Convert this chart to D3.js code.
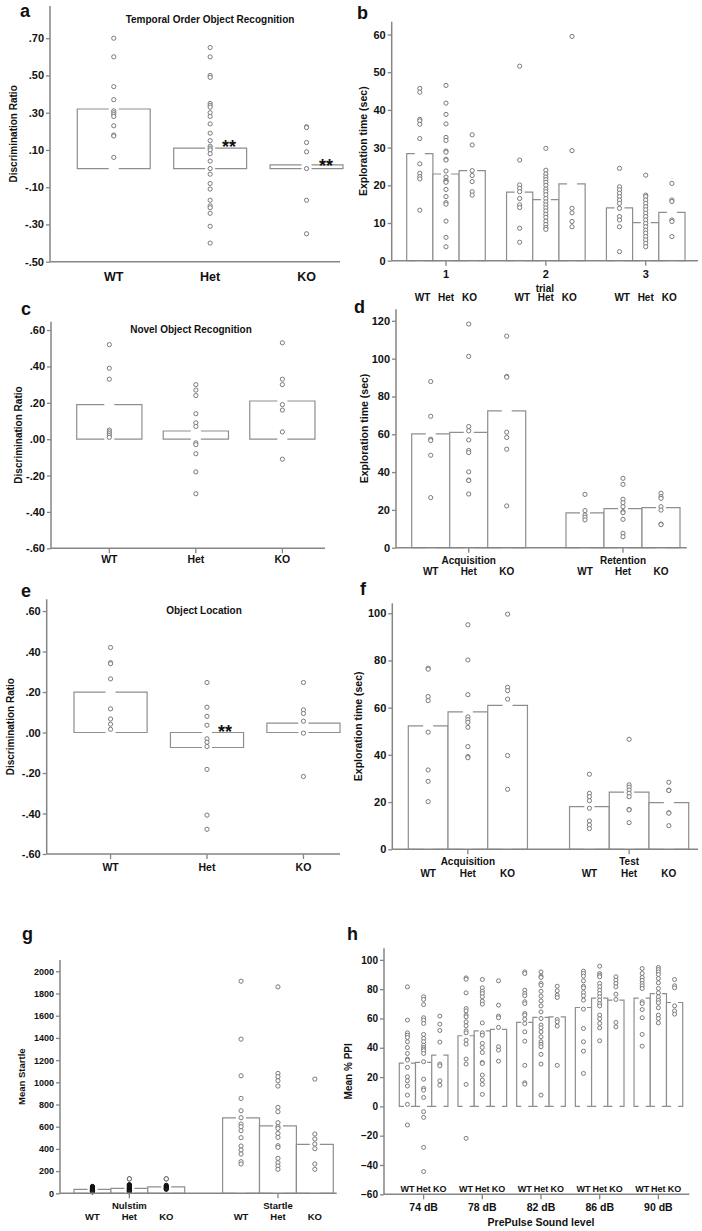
<!DOCTYPE html>
<html><head><meta charset="utf-8">
<script src="https://cdn.jsdelivr.net/npm/d3@7"></script>
<style>
body{margin:0;background:#fff;}
svg{display:block;font-family:"Liberation Sans",Arial,sans-serif;}
</style></head><body>
<svg id="chart" width="702" height="1231"></svg>
<script>
// ---------------- DATA ----------------
const genotypes = ["WT", "Het", "KO"];

// a: Temporal Order Object Recognition
const aMeans = [0.32, 0.11, 0.02];
const aWT = [0.70, 0.60, 0.44, 0.37, 0.31, 0.30, 0.29, 0.28, 0.23, 0.18, 0.175, 0.06];
const aHet = [0.65, 0.60, 0.50, 0.49, 0.35, 0.34, 0.33, 0.30, 0.28, 0.24, 0.19, 0.15, 0.12, 0.11, 0.10, 0.08, 0.04, 0.00, -0.03, -0.08, -0.11, -0.17, -0.20, -0.21, -0.24, -0.31, -0.40];
const aKO = [0.225, 0.22, 0.14, 0.09, 0.00, -0.17, -0.35];
const aTicks = [-0.5, -0.3, -0.1, 0.1, 0.3, 0.5, 0.7];

// b: exploration time per trial
const bTrials = ["1", "2", "3"];
const bMeansWT = [28.4, 18.2, 14.0];
const bMeansHet = [23.0, 16.2, 10.1];
const bMeansKO = [23.9, 20.4, 12.8];
const bWT = [[45.7, 44.7, 37.5, 37.1, 36.2, 32.4, 25.7, 23.2, 22.3, 21.7, 13.4],
             [51.6, 26.7, 20.1, 19.2, 18.3, 16.5, 14.8, 14.1, 8.6, 4.9],
             [24.5, 19.6, 18.8, 17.9, 17.0, 16.1, 15.2, 13.9, 11.7, 10.8, 9.0, 2.4]];
const bHet = [[46.5, 41.8, 38.8, 36.3, 32.7, 31.9, 29.1, 28.8, 26.9, 26.7, 23.8, 22.2, 21.3, 21.1, 20.8, 18.9, 17.0, 15.4, 15.0, 10.5, 6.2, 3.7],
              [29.8, 24.0, 23.0, 22.2, 21.5, 20.8, 20.0, 19.0, 18.3, 17.5, 16.5, 15.6, 14.8, 14.0, 13.2, 12.3, 11.5, 10.5, 9.6, 8.8, 8.3],
              [22.7, 17.4, 17.0, 16.1, 15.2, 14.3, 13.5, 12.6, 11.7, 10.8, 9.9, 9.0, 8.1, 7.3, 6.4, 5.5, 4.6, 3.7]];
const bKO = [[33.4, 30.7, 23.9, 22.6, 21.0, 18.3, 17.4],
             [59.5, 29.2, 13.9, 12.7, 10.4, 9.0],
             [20.5, 16.1, 15.7, 10.8, 10.4, 6.4]];
const bTicks = [0, 10, 20, 30, 40, 50, 60];

// c: Novel Object Recognition
const cMeans = [0.19, 0.045, 0.21];
const cWT = [0.52, 0.39, 0.33, 0.05, 0.04, 0.03, 0.02, 0.01];
const cHet = [0.30, 0.27, 0.24, 0.14, 0.09, 0.07, -0.02, -0.03, -0.08, -0.18, -0.30];
const cKO = [0.53, 0.33, 0.30, 0.19, 0.16, 0.04, -0.11];
const cTicks = [-0.6, -0.4, -0.2, 0, 0.2, 0.4, 0.6];

// d: NOR exploration time
const dPhases = ["Acquisition", "Retention"];
const dMeansWT = [60.2, 18.4];
const dMeansHet = [61.0, 20.7];
const dMeansKO = [72.4, 21.2];
const dWT = [[87.9, 69.5, 57.4, 56.7, 48.9, 26.5], [28.2, 19.6, 17.3, 16.1, 14.7]];
const dHet = [[118.3, 101.2, 64.1, 61.8, 57.0, 51.4, 50.3, 40.1, 35.8, 35.5, 28.4], [36.7, 33.5, 25.6, 23.8, 21.7, 19.1, 18.5, 15.0, 7.6, 5.8]];
const dKO = [[111.9, 90.6, 90.2, 61.1, 58.3, 52.1, 22.1], [28.8, 27.0, 26.1, 21.7, 19.9, 12.5, 12.2]];
const dTicks = [0, 20, 40, 60, 80, 100, 120];

// e: Object Location
const eMeans = [0.20, -0.074, 0.046];
const eWT = [0.42, 0.345, 0.34, 0.265, 0.117, 0.067, 0.041, 0.016];
const eHet = [0.247, 0.125, 0.08, 0.036, -0.031, -0.048, -0.069, -0.182, -0.408, -0.478];
const eKO = [0.247, 0.112, 0.094, 0.056, -0.003, -0.217];
const eTicks = [-0.6, -0.4, -0.2, 0, 0.2, 0.4, 0.6];

// f: OL exploration time
const fPhases = ["Acquisition", "Test"];
const fMeansWT = [52.3, 18.1];
const fMeansHet = [58.2, 24.2];
const fMeansKO = [61.0, 19.8];
const fWT = [[76.7, 76.3, 64.7, 63.0, 49.6, 33.6, 28.8, 20.2], [31.8, 23.7, 22.3, 20.6, 17.4, 12.0, 10.3, 8.8]];
const fHet = [[95.1, 80.2, 65.5, 56.1, 54.9, 53.8, 51.7, 43.5, 39.3, 38.8], [46.6, 27.3, 26.3, 25.1, 23.7, 22.3, 16.9, 16.7, 11.3]];
const fKO = [[99.6, 68.6, 67.2, 63.6, 39.7, 25.4], [28.4, 25.1, 24.9, 15.5, 15.3, 10.0]];
const fTicks = [0, 20, 40, 60, 80, 100];

// g: Mean Startle
const gConds = ["Nulstim", "Startle"];
const gMeansWT = [36, 680];
const gMeansHet = [45, 608];
const gMeansKO = [57, 441];
const gWT = [[62, 56, 50, 45, 40, 36, 32, 28, 24, 20, 16, 12],
             [1911, 1389, 1059, 855, 744, 681, 624, 600, 564, 501, 426, 390, 354, 285, 264]];
const gHet = [[130, 78, 72, 66, 60, 54, 48, 43, 38, 33, 28, 23, 18, 13],
              [1860, 1080, 1050, 1014, 966, 774, 735, 636, 600, 585, 540, 504, 429, 414, 315, 276, 246, 216]];
const gKO = [[130, 72, 62, 55, 48, 42, 36],
             [1029, 534, 489, 444, 402, 264, 216]];
const gTicks = [0, 200, 400, 600, 800, 1000, 1200, 1400, 1600, 1800, 2000];

// h: Mean % PPI
const hLevels = ["74 dB", "78 dB", "82 dB", "86 dB", "90 dB"];
const hMeansWT = [29.5, 48.2, 57.3, 67.5, 73.9];
const hMeansHet = [30.0, 51.6, 60.7, 73.9, 77.0];
const hMeansKO = [35.0, 52.5, 61.1, 72.5, 70.9];
const hWT = [
  [81.6, 58.9, 50.2, 48.6, 47.0, 44.1, 40.2, 36.1, 32.3, 31.6, 26.6, 20.2, 17.5, 13.9, 7.7, 1.4, -12.7],
  [87.7, 86.8, 77.5, 66.8, 65.2, 62.3, 61.1, 57.7, 55.0, 51.6, 50.2, 45.2, 42.5, 32.3, 28.9, 15.0, -21.8],
  [91.8, 90.7, 79.3, 77.0, 75.5, 71.4, 70.2, 63.4, 62.3, 59.5, 56.6, 50.9, 44.5, 28.0, 16.1, 15.2],
  [92.3, 90.7, 88.9, 85.7, 82.0, 80.9, 77.7, 75.5, 72.5, 66.4, 53.2, 44.1, 37.7, 22.5],
  [94.1, 90.7, 88.0, 86.1, 83.9, 82.3, 80.5, 71.4, 70.2, 66.1, 60.5, 49.1, 41.1]];
const hHet = [
  [74.8, 73.0, 69.5, 60.5, 58.9, 56.6, 49.1, 46.4, 44.1, 41.8, 40.2, 39.1, 38.0, 36.1, 30.5, 18.6, 12.3, 11.1, 6.1, -3.6, -7.5, -28.0, -44.5],
  [86.6, 80.9, 78.6, 77.0, 74.8, 71.8, 69.8, 57.0, 50.2, 48.6, 43.0, 40.2, 36.8, 30.0, 29.3, 21.4, 18.0, 15.0, 8.2],
  [91.8, 88.9, 88.0, 83.9, 82.7, 78.6, 75.2, 72.0, 68.6, 64.5, 60.0, 55.5, 53.6, 50.9, 47.5, 44.1, 42.3, 40.7, 35.5, 28.9, 7.7],
  [95.7, 90.7, 89.5, 88.4, 83.9, 81.6, 79.3, 77.0, 74.8, 72.5, 70.2, 68.6, 62.3, 59.8, 56.6, 53.6, 44.8],
  [94.8, 93.4, 91.8, 90.0, 87.3, 84.3, 80.5, 77.5, 74.8, 72.5, 70.7, 67.3, 62.3, 60.0, 57.0]];
const hKO = [
  [61.6, 56.1, 51.8, 43.9, 28.9, 27.7, 17.5, 14.5],
  [85.7, 69.1, 61.6, 60.5, 53.9, 40.7, 38.4, 30.9],
  [82.0, 78.9, 75.9, 74.3, 59.3, 57.7, 54.8, 28.0],
  [88.4, 86.1, 83.9, 81.6, 76.6, 73.0, 57.3, 54.3],
  [86.6, 82.3, 80.9, 68.6, 65.2, 63.0]];
const hTicks = [-60, -40, -20, 0, 20, 40, 60, 80, 100];

// ---------------- DRAWING ----------------
const svg = d3.select("#chart");
const AX = "#858585", BAR = "#8e8e8e", PT = "#7a7a7a", TXT = "#111";
const ratioFmt = v => v.toFixed(2).replace(/^(-?)0\./, "$1.");
const intFmt = d3.format("d");

function txt(g, x, y, s, fs, opts = {}) {
  const t = g.append("text").attr("x", x).attr("y", y).text(s)
    .attr("font-size", fs).attr("font-weight", opts.weight || "bold")
    .attr("fill", TXT).attr("text-anchor", opts.anchor || "middle")
    .attr("dominant-baseline", opts.baseline || "central");
  if (opts.rotate) t.attr("transform", `rotate(-90,${x},${y})`);
  return t;
}

function drawPanel(o) {
  const g = svg.append("g");
  const y = d3.scaleLinear().domain(o.yDomain).range(o.yRange);
  const xg = d3.scaleBand().domain(o.groups).range(o.bandRange).paddingInner(o.padInner).paddingOuter(0);
  const xs = d3.scaleBand().domain(o.subs).range([0, xg.bandwidth()]).padding(0);
  const y0 = y(0), half = o.gap / 2;
  const centers = [];
  o.groups.forEach((gr, gi) => {
    o.subs.forEach((s, si) => {
      const v = o.means[si][gi];
      const xl = xg(gr) + xs(s), xr = xl + xs.bandwidth(), xc = (xl + xr) / 2;
      const yt = y(v);
      g.append("rect").attr("x", xl).attr("y", Math.min(yt, y0))
        .attr("width", xr - xl).attr("height", Math.abs(y0 - yt)).attr("fill", "#fff");
      const p = d3.path();
      p.moveTo(xc - half, yt); p.lineTo(xl, yt); p.lineTo(xl, y0); p.lineTo(xc - half, y0);
      p.moveTo(xc + half, yt); p.lineTo(xr, yt); p.lineTo(xr, y0); p.lineTo(xc + half, y0);
      g.append("path").attr("d", p.toString()).attr("fill", "none")
        .attr("stroke", BAR).attr("stroke-width", 1.2);
      centers.push({gi, si, xc, pts: o.points[si][gi]});
    });
  });
  centers.forEach(c => {
    const dark = o.darkGroup === c.gi;
    g.selectAll(null).data(c.pts).enter().append("circle")
      .attr("cx", c.xc).attr("cy", d => y(d)).attr("r", o.r || 2.1)
      .attr("fill", dark ? "#222" : "#fff").attr("stroke", dark ? "#111" : PT).attr("stroke-width", 1);
  });
  // y axis
  const ya = d3.axisLeft(y).tickValues(o.yTicks).tickFormat(o.yFmt).tickSize(4).tickPadding(2);
  const yg = g.append("g").attr("transform", `translate(${o.axisX[0]},0)`).call(ya);
  yg.select(".domain").remove();
  yg.selectAll("line").attr("stroke", AX).attr("stroke-width", 1.3);
  yg.selectAll("text").attr("font-size", o.tickFs).attr("font-weight", "bold")
    .attr("fill", TXT).attr("font-family", "Liberation Sans, Arial, sans-serif");
  g.append("line").attr("x1", o.axisX[0]).attr("x2", o.axisX[0])
    .attr("y1", o.yRange[0]).attr("y2", o.yRange[1]).attr("stroke", AX).attr("stroke-width", 1.5);
  // x axis
  g.append("line").attr("x1", o.axisX[0]).attr("x2", o.axisX[1])
    .attr("y1", o.yRange[0]).attr("y2", o.yRange[0]).attr("stroke", AX).attr("stroke-width", 1.5);
  if (o.xTicks) {
    o.groups.forEach(gr => {
      const xc = xg(gr) + xg.bandwidth() / 2;
      g.append("line").attr("x1", xc).attr("x2", xc).attr("y1", o.yRange[0]).attr("y2", o.yRange[0] + 5)
        .attr("stroke", AX).attr("stroke-width", 1.3);
    });
  }
  // y label
  txt(g, o.yLabelX, (o.yRange[0] + o.yRange[1]) / 2, o.yLabel, o.yLabelFs, {rotate: true});
  // panel letter
  txt(g, o.letterX, o.letterY, o.letter, 18, {anchor: "start", baseline: "auto"});
  return {g, y, xg, xs};
}

// ---- a ----
{
  const P = drawPanel({
    groups: genotypes, subs: ["m"], means: [aMeans], points: [[aWT, aHet, aKO]],
    yDomain: [-0.5, 0.873], yRange: [261.7, 6], yTicks: aTicks, yFmt: ratioFmt, tickFs: 11,
    bandRange: [77.3, 343], padInner: 0.2435, axisX: [50, 340], gap: 10, xTicks: false,
    yLabel: "Discrimination Ratio", yLabelX: 13.5, yLabelFs: 10, letter: "a", letterX: 20, letterY: 16.8
  });
  genotypes.forEach(c => txt(P.g, P.xg(c) + P.xg.bandwidth() / 2, 277, c, 12.5));
  txt(P.g, 210, 19, "Temporal Order Object Recognition", 10);
  txt(P.g, 229, 152.5, "**", 18, {baseline: "auto"});
  txt(P.g, 326, 171.5, "**", 18, {baseline: "auto"});
}
// ---- b ----
{
  const P = drawPanel({
    groups: bTrials, subs: genotypes, means: [bMeansWT, bMeansHet, bMeansKO], points: [bWT, bHet, bKO],
    yDomain: [0, 63.4], yRange: [260.7, 21.7], yTicks: bTicks, yFmt: intFmt, tickFs: 11,
    bandRange: [406.7, 685], padInner: 0.213, axisX: [391.7, 698], gap: 10, xTicks: true,
    yLabel: "Exploration time (sec)", yLabelX: 363.5, yLabelFs: 10.5, letter: "b", letterX: 357, letterY: 18.5
  });
  bTrials.forEach(t => {
    const xc = P.xg(t) + P.xg.bandwidth() / 2;
    txt(P.g, xc, 273.7, t, 11);
    genotypes.forEach((s, i) => txt(P.g, xc + (i - 1) * 23.5, 297, s, 10));
  });
  txt(P.g, 544.8, 288, "trial", 10);
}
// ---- c ----
{
  const P = drawPanel({
    groups: genotypes, subs: ["m"], means: [cMeans], points: [[cWT, cHet, cKO]],
    yDomain: [-0.6, 0.646], yRange: [548.3, 321.7], yTicks: cTicks, yFmt: ratioFmt, tickFs: 11,
    bandRange: [76.7, 315], padInner: 0.246, axisX: [51, 325], gap: 10, xTicks: true,
    yLabel: "Discrimination Ratio", yLabelX: 18.5, yLabelFs: 10, letter: "c", letterX: 21, letterY: 315
  });
  genotypes.forEach(c => txt(P.g, P.xg(c) + P.xg.bandwidth() / 2, 559.3, c, 10.5));
  txt(P.g, 191, 329, "Novel Object Recognition", 10);
}
// ---- d ----
{
  const P = drawPanel({
    groups: dPhases, subs: genotypes, means: [dMeansWT, dMeansHet, dMeansKO], points: [dWT, dHet, dKO],
    yDomain: [0, 126.1], yRange: [547.7, 309.3], yTicks: dTicks, yFmt: intFmt, tickFs: 11,
    bandRange: [411.7, 680], padInner: 0.261, axisX: [396, 686.7], gap: 10, xTicks: true,
    yLabel: "Exploration time (sec)", yLabelX: 363.5, yLabelFs: 10.5, letter: "d", letterX: 354, letterY: 313
  });
  dPhases.forEach(ph => {
    txt(P.g, P.xg(ph) + P.xg.bandwidth() / 2, 560, ph, 10);
    genotypes.forEach(s => txt(P.g, P.xg(ph) + P.xs(s) + P.xs.bandwidth() / 2, 571.7, s, 10));
  });
}
// ---- e ----
{
  const P = drawPanel({
    groups: genotypes, subs: ["m"], means: [eMeans], points: [[eWT, eHet, eKO]],
    yDomain: [-0.6, 0.658], yRange: [854, 599.3], yTicks: eTicks, yFmt: ratioFmt, tickFs: 11,
    bandRange: [74, 340], padInner: 0.242, axisX: [46.7, 340], gap: 10, xTicks: true,
    yLabel: "Discrimination Ratio", yLabelX: 11, yLabelFs: 10, letter: "e", letterX: 21, letterY: 597
  });
  genotypes.forEach(c => txt(P.g, P.xg(c) + P.xg.bandwidth() / 2, 867, c, 10.5));
  txt(P.g, 204, 610.7, "Object Location", 10);
  txt(P.g, 225, 737.5, "**", 18, {baseline: "auto"});
}
// ---- f ----
{
  const P = drawPanel({
    groups: fPhases, subs: genotypes, means: [fMeansWT, fMeansHet, fMeansKO], points: [fWT, fHet, fKO],
    yDomain: [0, 104.2], yRange: [849.3, 603.3], yTicks: fTicks, yFmt: intFmt, tickFs: 11,
    bandRange: [408.3, 688.7], padInner: 0.261, axisX: [392.3, 698], gap: 10, xTicks: true,
    yLabel: "Exploration time (sec)", yLabelX: 358.5, yLabelFs: 10.5, letter: "f", letterX: 360, letterY: 595
  });
  fPhases.forEach(ph => {
    txt(P.g, P.xg(ph) + P.xg.bandwidth() / 2, 861.7, ph, 10);
    genotypes.forEach(s => txt(P.g, P.xg(ph) + P.xs(s) + P.xs.bandwidth() / 2, 873.3, s, 10));
  });
}
// ---- g ----
{
  const P = drawPanel({
    groups: gConds, subs: genotypes, means: [gMeansWT, gMeansHet, gMeansKO], points: [gWT, gHet, gKO],
    yDomain: [0, 2102], yRange: [1193.3, 960], yTicks: gTicks, yFmt: intFmt, tickFs: 9,
    bandRange: [74, 333.3], padInner: 0.255, axisX: [60, 336.7], gap: 10, xTicks: true, darkGroup: 0,
    yLabel: "Mean Startle", yLabelX: 21.7, yLabelFs: 9.5, letter: "g", letterX: 22, letterY: 940
  });
  gConds.forEach(c => {
    txt(P.g, P.xg(c) + P.xg.bandwidth() / 2, 1205, c, 9.5);
    genotypes.forEach(s => txt(P.g, P.xg(c) + P.xs(s) + P.xs.bandwidth() / 2, 1216.7, s, 9.5));
  });
  // the two isolated nulstim outliers are open circles
  [["Het", gHet[0][0]], ["KO", gKO[0][0]]].forEach(([s, v]) => {
    P.g.append("circle").attr("cx", P.xg("Nulstim") + P.xs(s) + P.xs.bandwidth() / 2).attr("cy", P.y(v))
      .attr("r", 2.1).attr("fill", "#fff").attr("stroke", PT).attr("stroke-width", 1);
  });
}
// ---- h ----
{
  const P = drawPanel({
    groups: hLevels, subs: genotypes, means: [hMeansWT, hMeansHet, hMeansKO], points: [hWT, hHet, hKO],
    yDomain: [-60, 107.9], yRange: [1194.3, 948.3], yTicks: hTicks, yFmt: intFmt, tickFs: 10,
    bandRange: [399.3, 682.7], padInner: 0.171, axisX: [384, 689.3], gap: 7, xTicks: true, r: 2,
    yLabel: "Mean % PPI", yLabelX: 349, yLabelFs: 10, letter: "h", letterX: 347, letterY: 940
  });
  hLevels.forEach(l => {
    txt(P.g, P.xg(l) + P.xg.bandwidth() / 2, 1206.7, l, 10.5);
    genotypes.forEach(s => txt(P.g, P.xg(l) + P.xs(s) + P.xs.bandwidth() / 2, 1189.3, s, 9));
  });
  txt(P.g, 541, 1221.7, "PrePulse Sound level", 10.5);
}
</script>
</body></html>
